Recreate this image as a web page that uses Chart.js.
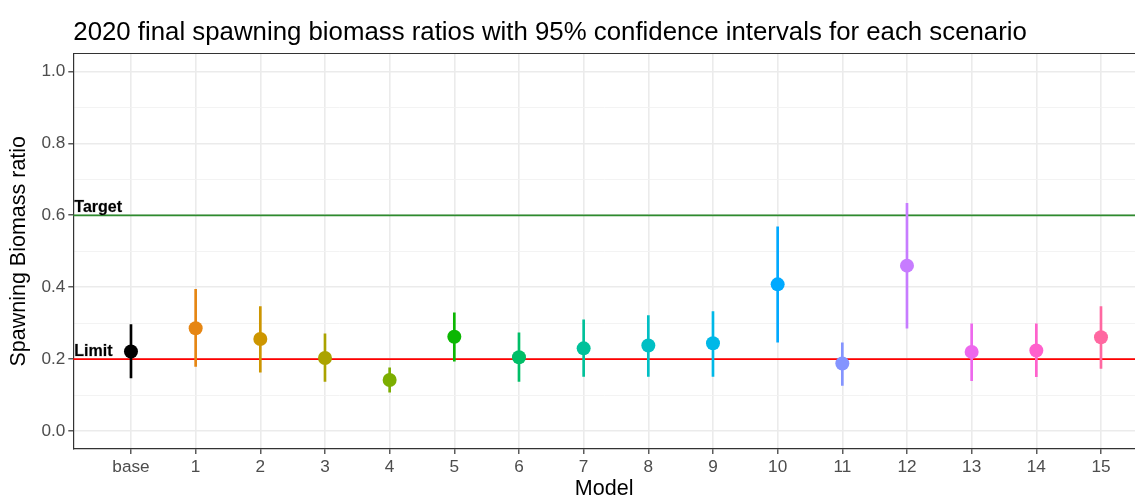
<!DOCTYPE html>
<html>
<head>
<meta charset="utf-8">
<title>Spawning biomass ratios</title>
<script src="https://cdn.jsdelivr.net/npm/chart.js@4.4.1/dist/chart.umd.min.js"></script>
<style>
  html, body { margin: 0; padding: 0; background: #ffffff; }
</style>
</head>
<body>
<canvas id="sbChart" width="1135" height="502"></canvas>
<script>
const models = ['base', '1', '2', '3', '4', '5', '6', '7', '8', '9', '10', '11', '12', '13', '14', '15'];

// final spawning biomass ratio (point estimate) and 95% CI per model
const ratio = [0.221, 0.286, 0.256, 0.203, 0.142, 0.262, 0.205, 0.230, 0.238, 0.244, 0.408, 0.188, 0.460, 0.220, 0.224, 0.261];
const lower = [0.148, 0.180, 0.164, 0.138, 0.108, 0.194, 0.138, 0.152, 0.152, 0.152, 0.247, 0.127, 0.286, 0.140, 0.151, 0.174];
const upper = [0.296, 0.394, 0.346, 0.270, 0.176, 0.329, 0.273, 0.309, 0.321, 0.332, 0.568, 0.245, 0.633, 0.298, 0.298, 0.346];

const colours = ['#000000', '#E68613', '#CD9600', '#ABA300', '#7CAE00', '#0CB702', '#00BE67', '#00C19A',
                 '#00BFC4', '#00B8E7', '#00A9FF', '#8494FF', '#C77CFF', '#ED68ED', '#FF61CC', '#FF68A1'];

const yTicks = [0, 0.1, 0.2, 0.3, 0.4, 0.5, 0.6, 0.7, 0.8, 0.9, 1.0];

// reference points
const refLevels = [0.6, 0.2];
const refNames = ['Target', 'Limit'];
const refColours = ['#2E8B2E', '#FF0000'];

const FONT = "'Liberation Sans', Arial, Helvetica, sans-serif";
Chart.defaults.font.family = FONT;

const ctx = document.getElementById('sbChart').getContext('2d');

// horizontal reference lines + their labels
const refLines = {
  id: 'refLines',
  beforeDatasetsDraw(chart) {
    const {ctx, chartArea: a, scales: {y}} = chart;
    ctx.save();
    refLevels.forEach((lvl, i) => {
      const py = y.getPixelForValue(lvl);
      ctx.strokeStyle = refColours[i];
      ctx.lineWidth = 1.8;
      ctx.beginPath();
      ctx.moveTo(a.left, py);
      ctx.lineTo(a.right, py);
      ctx.stroke();
    });
    ctx.restore();
  },
  afterDatasetsDraw(chart) {
    const {ctx, chartArea: a, scales: {y}} = chart;
    ctx.save();
    ctx.font = 'bold 16px ' + FONT;
    ctx.textAlign = 'left';
    ctx.textBaseline = 'alphabetic';
    ctx.fillStyle = '#000000';
    ctx.strokeStyle = 'rgba(0,0,0,0.35)';
    ctx.lineWidth = 0.6;
    refLevels.forEach((lvl, i) => {
      const py = y.getPixelForValue(lvl);
      ctx.strokeText(refNames[i], a.left + 1, py - 3.5);
      ctx.fillText(refNames[i], a.left + 1, py - 3.5);
    });
    ctx.restore();
  }
};

// top edge of the panel and the plot title
const frame = {
  id: 'frame',
  afterDraw(chart) {
    const {ctx, chartArea: a} = chart;
    ctx.save();
    ctx.strokeStyle = '#333333';
    ctx.lineWidth = 1.2;
    ctx.beginPath();
    ctx.moveTo(a.left, a.top);
    ctx.lineTo(a.right, a.top);
    ctx.stroke();

    ctx.fillStyle = '#000000';
    ctx.font = '25.8px ' + FONT;
    ctx.textAlign = 'left';
    ctx.textBaseline = 'alphabetic';
    ctx.fillText('2020 final spawning biomass ratios with 95% confidence intervals for each scenario', a.left, 40);
    ctx.restore();
  }
};

const data = {
  datasets: [
    {
      type: 'scatter',
      data: models.map((m, i) => ({x: i, y: ratio[i]})),
      pointBackgroundColor: colours,
      pointBorderWidth: 0,
      pointRadius: 7,
      pointHoverRadius: 7,
      order: 1
    },
    {
      type: 'bar',
      data: models.map((m, i) => ({x: i, y: [lower[i], upper[i]]})),
      backgroundColor: colours,
      borderWidth: 0,
      barThickness: 2,
      order: 2
    }
  ]
};

const config = {
  type: 'scatter',
  data: data,
  options: {
    responsive: false,
    animation: false,
    layout: { autoPadding: false, padding: { top: 53.5, right: 0, left: 0, bottom: 0 } },
    plugins: {
      legend: { display: false },
      tooltip: { enabled: false }
    },
    scales: {
      x: {
        type: 'linear',
        min: -0.892,
        max: 15.526,
        offset: false,
        afterBuildTicks: (s) => { s.ticks = models.map((m, i) => ({value: i})); },
        afterFit: (s) => { s.height = 53; },
        ticks: {
          autoSkip: false,
          maxRotation: 0,
          padding: 3,
          color: '#4D4D4D',
          font: { size: 17.2 },
          callback: (v) => models[v]
        },
        grid: {
          offset: false,
          color: '#EBEBEB',
          lineWidth: 1.6,
          tickColor: '#333333',
          tickLength: 5,
          tickWidth: 1.2
        },
        border: { display: true, color: '#333333', width: 1.2 },
        title: {
          display: true,
          text: 'Model',
          color: '#000000',
          font: { size: 21.5 },
          padding: { top: 0, bottom: 0 }
        }
      },
      y: {
        type: 'linear',
        min: -0.05,
        max: 1.05,
        afterBuildTicks: (s) => { s.ticks = yTicks.map(v => ({value: v})); },
        afterFit: (s) => { s.width = 73.3; },
        ticks: {
          autoSkip: false,
          padding: 3,
          color: '#4D4D4D',
          font: { size: 17.2 },
          callback: (v, i) => (i % 2 === 0 ? yTicks[i].toFixed(1) : '')
        },
        grid: {
          color: (c) => (c.index % 2 === 0 ? '#EBEBEB' : '#F2F2F2'),
          lineWidth: (c) => (c.index % 2 === 0 ? 1.6 : 0.9),
          tickColor: (c) => (c.index % 2 === 0 ? '#333333' : 'rgba(0,0,0,0)'),
          tickLength: 5,
          tickWidth: 1.2
        },
        border: { display: true, color: '#333333', width: 1.2 },
        title: {
          display: true,
          text: 'Spawning Biomass ratio',
          color: '#000000',
          font: { size: 21.5 },
          padding: { top: 6, bottom: 0 }
        }
      }
    }
  },
  plugins: [refLines, frame]
};

const sbChart = new Chart(ctx, config);
</script>
</body>
</html>
